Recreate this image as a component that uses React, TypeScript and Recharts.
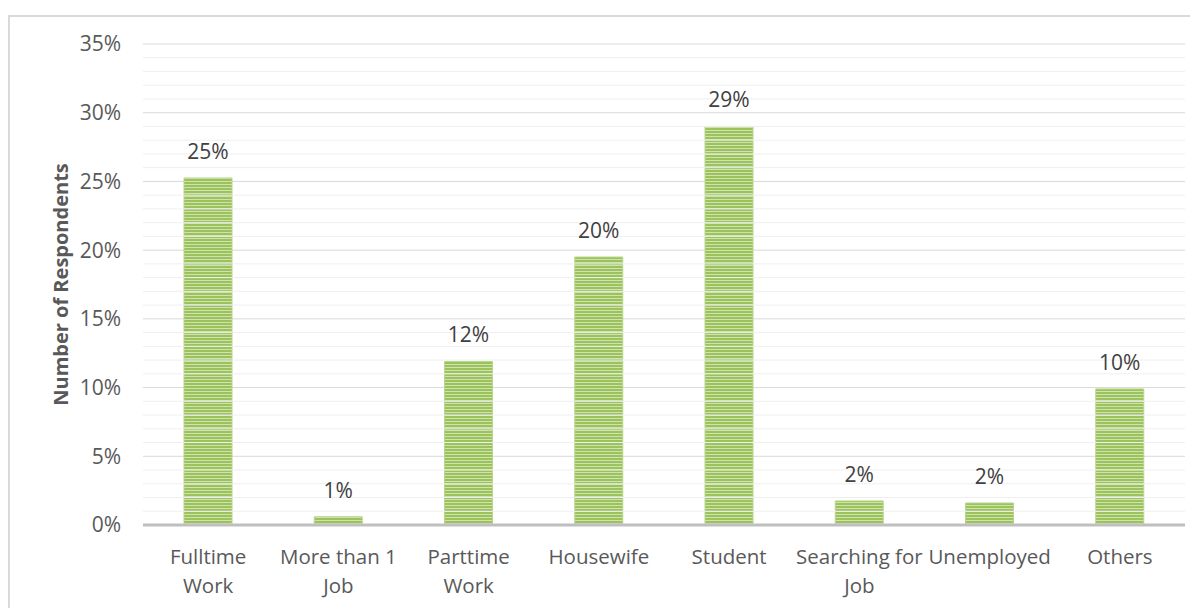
import React from 'react';
import { BarChart, Bar, XAxis, YAxis, CartesianGrid, ReferenceLine, LabelList } from 'recharts';

const categories = ['Fulltime Work', 'More than 1 Job', 'Parttime Work', 'Housewife', 'Student', 'Searching for Job', 'Unemployed', 'Others'];
const categoryLines = [['Fulltime', 'Work'], ['More than 1', 'Job'], ['Parttime', 'Work'], ['Housewife'], ['Student'], ['Searching for', 'Job'], ['Unemployed'], ['Others']];
const respondents = [0.2525, 0.006, 0.119, 0.195, 0.29, 0.0175, 0.016, 0.099];
const yTicks = [0, 0.05, 0.1, 0.15, 0.2, 0.25, 0.3, 0.35];
const minorTicks = [1, 2, 3, 4, 6, 7, 8, 9, 11, 12, 13, 14, 16, 17, 18, 19, 21, 22, 23, 24, 26, 27, 28, 29, 31, 32, 33, 34].map((v) => v / 100);

const data = categories.map((c, i) => ({ name: c, value: respondents[i], idx: i }));

const FONT = '"Open Sans", "Noto Sans", sans-serif';

const pct = (v: number) => `${Math.round(v * 100)}%`;

const XTick = (props: any) => {
  const { x, y, index } = props;
  const lines = categoryLines[index] || [String(props.payload.value)];
  return (
    <g>
      {lines.map((l: string, i: number) => (
        <text key={i} x={x} y={y + 39 + i * 29} textAnchor="middle" fill="#595959" fontSize={20.5} fontFamily={FONT}>
          {l}
        </text>
      ))}
    </g>
  );
};

export default function App() {
  return (
    <div style={{ position: 'relative', width: 1190, height: 600, overflow: 'hidden', background: '#fff' }}>
      <div style={{ position: 'absolute', left: 0, top: 7, width: 1210, height: 640, border: '2px solid #d9d9d9', boxSizing: 'border-box' }} />
      <div style={{ position: 'absolute', left: 0, top: 0 }}>
        <BarChart width={1190} height={600} data={data} margin={{ top: 36, right: 13, left: 0, bottom: 0 }}>
          <defs>
            <pattern id="stripes" x="0" y="0" width="8" height="3" patternUnits="userSpaceOnUse">
              <rect x="0" y="0" width="8" height="3" fill="#cfe3b0" />
              <rect x="0" y="0" width="8" height="2" fill="#9cc25b" />
            </pattern>
          </defs>
          {minorTicks.map((v) => (
            <ReferenceLine key={v} y={v} stroke="#efefef" strokeWidth={1} ifOverflow="extendDomain" />
          ))}
          <CartesianGrid vertical={false} stroke="#d9d9d9" />
          <YAxis
            width={135}
            domain={[0, 0.35]}
            ticks={yTicks}
            tickFormatter={pct}
            axisLine={false}
            tickLine={false}
            tickSize={0}
            tickMargin={22}
            tick={{ fill: '#595959', fontSize: 21, fontFamily: FONT }}
            label={{
              content: (p: any) => {
                const vb = p.viewBox || {};
                const cy = (vb.y ?? 36) + (vb.height ?? 481) / 2;
                return (
                  <text x={52} y={cy} transform={`rotate(-90, 52, ${cy})`} textAnchor="middle" dominantBaseline="central" fill="#595959" fontSize={20} fontWeight="bold" fontFamily={FONT}>
                    Number of Respondents
                  </text>
                );
              },
            }}
          />
          <XAxis
            dataKey="name"
            height={83}
            interval={0}
            tickLine={false}
            tickSize={0}
            tickMargin={0}
            axisLine={{ stroke: '#bfbfbf', strokeWidth: 3 }}
            tick={<XTick />}
          />
          <Bar dataKey="value" barSize={48} fill="url(#stripes)" stroke="#b8d68a" strokeWidth={1} isAnimationActive={false}>
            <LabelList dataKey="value" position="top" offset={19} formatter={(v: any) => pct(Number(v))} fill="#404040" fontSize={21} fontFamily={FONT} />
          </Bar>
        </BarChart>
      </div>
    </div>
  );
}
